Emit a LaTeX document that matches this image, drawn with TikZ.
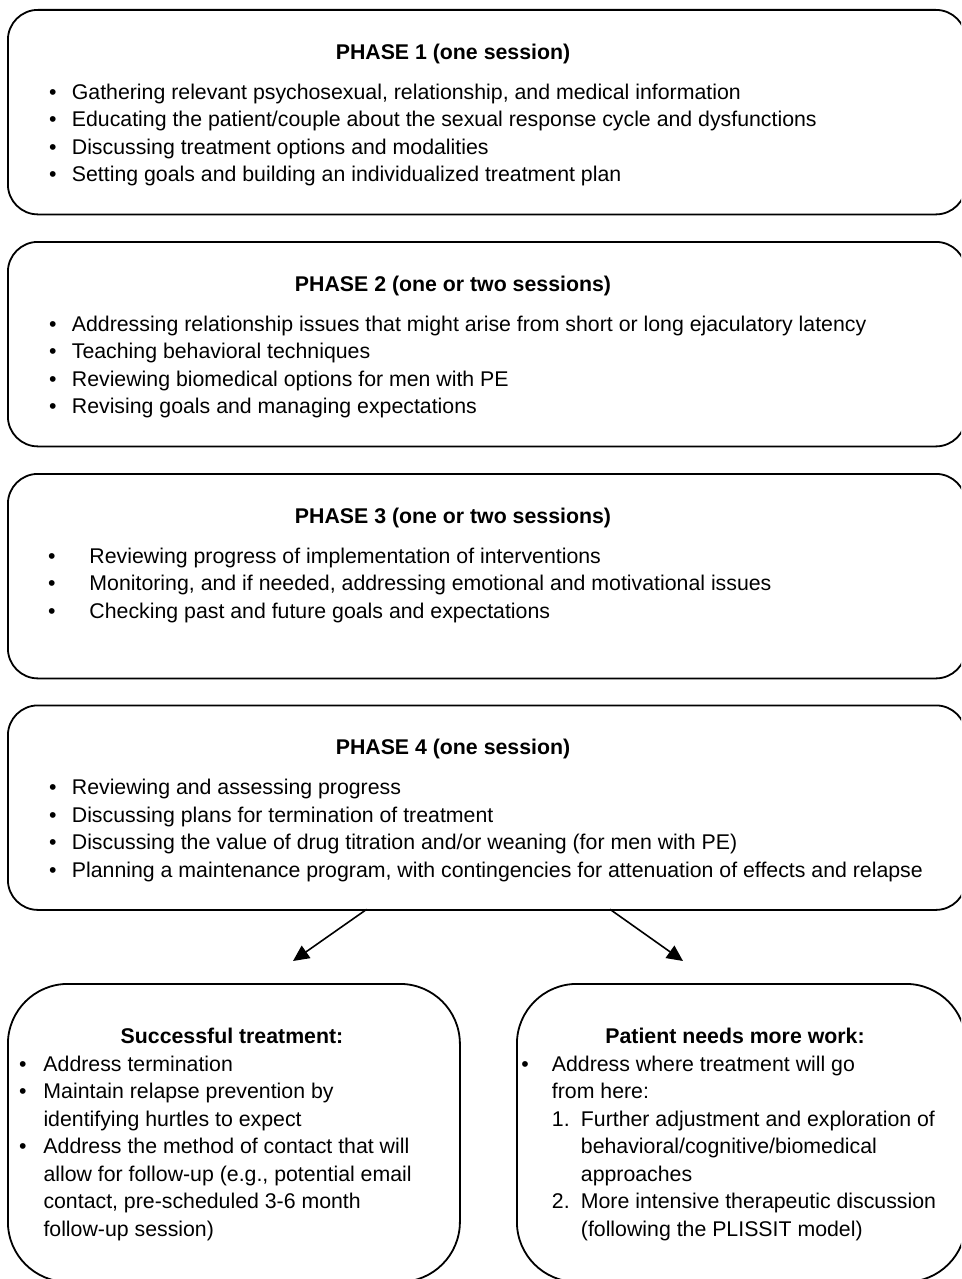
\documentclass[tikz,border=0pt]{standalone}
\usepackage{fontspec}
\setmainfont{Liberation Sans}
\usepackage{array}
\usetikzlibrary{arrows.meta}

\newcommand{\txtsize}{\fontsize{21.3}{27.5}\selectfont}

\tikzset{
  phasebox/.style={draw, line width=1.8pt, rounded corners=30pt, minimum width=958pt, minimum height=204.5pt, anchor=north west, inner sep=0pt},
  endbox/.style={draw, line width=1.8pt, rounded corners=60pt, minimum height=298pt, anchor=north west, inner sep=0pt},
  title/.style={anchor=base, font=\txtsize\bfseries, inner sep=0pt},
  items/.style={anchor=base west, inner sep=0pt},
  arr/.style={line width=1.6pt, -{Triangle[length=16pt,width=15pt]}}
}

\begin{document}
\begin{tikzpicture}[x=1pt,y=-1pt,font=\txtsize]
\useasboundingbox (0,0) rectangle (961,1279);
\clip (0,0) rectangle (961,1279);

% phase 1
\node[phasebox] (p1) at (7,9) {};
\node[title] (p1t) at (453,59.3) {PHASE 1 (one session)};
\node[items] (p1l) at (49,99.3) {\begin{tabular}[t]{@{}p{22.7pt}@{}l@{}}
\textbullet & Gathering relevant psychosexual, relationship, and medical information\\
\textbullet & Educating the patient/couple about the sexual response cycle and dysfunctions\\
\textbullet & Discussing treatment options and modalities\\
\textbullet & Setting goals and building an individualized treatment plan
\end{tabular}};

% phase 2
\node[phasebox] (p2) at (7,241) {};
\node[title] (p2t) at (453,291.3) {PHASE 2 (one or two sessions)};
\node[items] (p2l) at (49,331.3) {\begin{tabular}[t]{@{}p{22.7pt}@{}l@{}}
\textbullet & Addressing relationship issues that might arise from short or long ejaculatory latency\\
\textbullet & Teaching behavioral techniques\\
\textbullet & Reviewing biomedical options for men with PE\\
\textbullet & Revising goals and managing expectations
\end{tabular}};

% phase 3
\node[phasebox] (p3) at (7,473) {};
\node[title] (p3t) at (453,523.3) {PHASE 3 (one or two sessions)};
\node[items] (p3l) at (48,563.3) {\begin{tabular}[t]{@{}p{41.3pt}@{}l@{}}
\textbullet & Reviewing progress of implementation of interventions\\
\textbullet & Monitoring, and if needed, addressing emotional and motivational issues\\
\textbullet & Checking past and future goals and expectations
\end{tabular}};

% phase 4
\node[phasebox] (p4) at (7,704.5) {};
\node[title] (p4t) at (453,754.8) {PHASE 4 (one session)};
\node[items] (p4l) at (49,794.8) {\begin{tabular}[t]{@{}p{22.7pt}@{}l@{}}
\textbullet & Reviewing and assessing progress\\
\textbullet & Discussing plans for termination of treatment\\
\textbullet & Discussing the value of drug titration and/or weaning (for men with PE)\\
\textbullet & Planning a maintenance program, with contingencies for attenuation of effects and relapse
\end{tabular}};

% outcomes
\node[endbox, minimum width=452pt] (ok) at (7,983) {};
\node[title] (okt) at (232,1043) {Successful treatment:};
\node[items] (okl) at (19,1071.3) {\begin{tabular}[t]{@{}p{24.3pt}@{}l@{}}
\textbullet & Address termination\\
\textbullet & Maintain relapse prevention by\\
 & identifying hurtles to expect\\
\textbullet & Address the method of contact that will\\
 & allow for follow-up (e.g., potential email\\
 & contact, pre-scheduled 3-6 month\\
 & follow-up session)
\end{tabular}};

\node[endbox, minimum width=449pt] (more) at (516,983) {};
\node[title] (moret) at (735,1043) {Patient needs more work:};
\node[items] (morel) at (521.2,1071.3) {\begin{tabular}[t]{@{}p{30.5pt}@{}p{29pt}@{}l@{}}
\textbullet & \multicolumn{2}{@{}l@{}}{Address where treatment will go}\\
 & \multicolumn{2}{@{}l@{}}{from here:}\\
 & 1. & Further adjustment and exploration of\\
 & & behavioral/cognitive/biomedical\\
 & & approaches\\
 & 2. & More intensive therapeutic discussion\\
 & & (following the PLISSIT model)
\end{tabular}};

% arrows
\coordinate (a1) at (366.7,909.3);
\coordinate (a1e) at (293,961);
\coordinate (a2) at (610,909.3);
\coordinate (a2e) at (683,961);
\draw[arr] (a1) -- (a1e);
\draw[arr] (a2) -- (a2e);
\end{tikzpicture}
\end{document}
